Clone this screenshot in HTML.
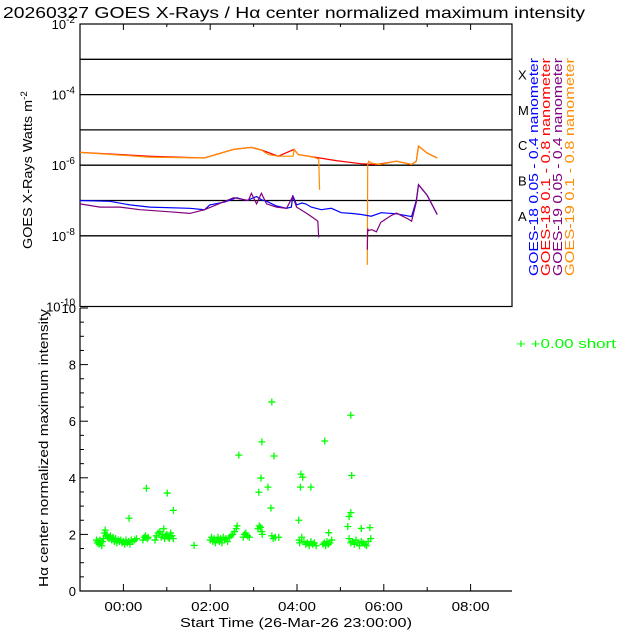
<!DOCTYPE html>
<html><head><meta charset="utf-8"><style>
html,body{margin:0;padding:0;background:#fff;width:640px;height:640px;overflow:hidden}
svg{display:block;font-family:"Liberation Sans",sans-serif}
</style></head><body>
<svg id="chart" width="640" height="640" viewBox="0 0 640 640">
<text x="3" y="18" font-size="16" textLength="582" lengthAdjust="spacingAndGlyphs">20260327 GOES X-Rays / Hα center normalized maximum intensity</text>
<g id="topPanel"></g>
<g id="botPanel"></g>
</svg>
<script>
// ---- data ----
var xrTickHours = [0, 2, 4, 6, 8];
var xrTickLabels = ['00:00', '02:00', '04:00', '06:00', '08:00'];
var goesClassLetters = ['A', 'B', 'C', 'M', 'X'];
var goesClassFlux = [1e-8, 1e-7, 1e-6, 1e-5, 1e-4];
var logTickExps = [-2, -4, -6, -8, -10];
// GOES-19 long (orange) [hour, flux]; NaN = data gap
var g19LongT = [-1.0,0.6,1.86,2.54,2.95,3.07,3.18,3.34,3.57,3.91,3.93,4.03,4.37,4.5,4.52,4.53,5.62,5.63,5.65,5.72,5.9,6.29,6.64,6.75,6.8,7.0,7.23];
var g19LongF = [2.3e-6,1.7e-6,1.6e-6,2.8e-6,3.2e-6,3.0e-6,2.7e-6,2.0e-6,1.8e-6,1.8e-6,2.8e-6,2.0e-6,1.7e-6,1.5e-6,2.0e-7,NaN,1.5e-9,1.0e-6,1.3e-6,1.15e-6,1.05e-6,1.3e-6,1.05e-6,1.3e-6,3.5e-6,2.2e-6,1.6e-6];
// GOES-18 long (red)
var g18LongT = [-1.0,0.6,1.86,2.54,2.95,3.18,3.57,3.93,4.03,4.4,4.9,5.47,5.83,6.29,6.64,6.75,6.8,7.0,7.23];
var g18LongF = [2.3e-6,1.8e-6,1.6e-6,2.8e-6,3.2e-6,2.7e-6,1.8e-6,2.8e-6,2.0e-6,1.7e-6,1.35e-6,1.1e-6,1.05e-6,1.3e-6,1.05e-6,1.3e-6,3.5e-6,2.2e-6,1.6e-6];
// GOES-18 short (blue)
var g18ShortT = [-1.0,-0.31,0.15,0.61,1.53,1.87,1.99,2.33,2.61,2.84,3.07,3.18,3.3,3.53,3.76,3.87,3.9,3.99,4.11,4.2,4.33,4.56,4.79,5.02,5.25,5.48,5.71,5.94,6.29,6.64,6.75,6.8,7.0,7.23];
var g18ShortF = [1.0e-7,9.5e-8,7.5e-8,6.5e-8,6.0e-8,5.5e-8,7.5e-8,9e-8,1.2e-7,1.0e-7,1.3e-7,1.05e-7,9.5e-8,7e-8,6.0e-8,6.5e-8,1.4e-7,7.5e-8,8.5e-8,8e-8,6.5e-8,5.5e-8,6e-8,4.5e-8,4.3e-8,4.0e-8,3.6e-8,4.5e-8,4.2e-8,3.5e-8,1.0e-7,2.8e-7,1.4e-7,4e-8];
// GOES-19 short (purple); NaN = data gap
var g19ShortT = [-1.0,-0.54,-0.08,0.38,1.07,1.53,1.87,2.54,2.88,2.95,3.07,3.18,3.3,3.53,3.76,3.9,3.99,4.2,4.38,4.48,4.5,4.51,5.62,5.63,5.65,5.72,5.83,5.93,6.18,6.29,6.56,6.64,6.75,6.8,7.0,7.23];
var g19ShortF = [8.0e-8,6.5e-8,6.5e-8,5.5e-8,4.8e-8,4.3e-8,5.5e-8,1.2e-7,1.0e-7,1.6e-7,8e-8,1.6e-7,8e-8,6.5e-8,6.0e-8,1.3e-7,6.5e-8,4.5e-8,3.2e-8,2.6e-8,9e-9,NaN,4e-9,1.6e-8,1.4e-8,1.5e-8,1.3e-8,2.4e-8,3.8e-8,4.4e-8,3.0e-8,2.6e-8,9e-8,2.8e-7,1.4e-7,4e-8];
// H-alpha normalized maximum intensity
var haT = [-0.62,-0.6,-0.58,-0.56,-0.54,-0.52,-0.5,-0.48,-0.46,-0.44,-0.42,-0.4,-0.38,-0.36,-0.33,-0.3,-0.27,-0.24,-0.21,-0.18,-0.15,-0.12,-0.09,-0.06,-0.03,0.0,0.03,0.06,0.09,0.12,0.15,0.18,0.22,0.26,0.3,
 0.45,0.48,0.51,0.55,0.57,0.73,0.76,0.8,0.84,0.87,0.9,0.93,0.95,0.97,1.0,1.03,1.06,1.09,1.12,1.15,
 0.13,0.53,1.01,1.15,1.63,
 2.0,2.03,2.06,2.09,2.12,2.15,2.18,2.21,2.24,2.27,2.3,2.33,2.36,2.4,2.44,2.48,2.52,2.56,2.6,2.62,
 2.76,2.79,2.82,2.86,2.9,3.1,3.13,3.16,3.19,3.2,3.42,3.45,3.5,3.58,
 2.66,3.19,3.42,3.47,3.17,3.12,3.33,3.4,4.09,4.13,4.08,4.32,4.04,4.64,5.24,5.26,5.24,5.2,5.17,5.68,5.48,5.7,4.73,
 4.06,4.05,4.11,4.16,4.2,4.24,4.28,4.32,4.36,4.4,4.44,4.6,4.63,4.66,4.69,4.72,4.76,4.8,5.2,5.24,5.28,5.32,5.36,5.4,5.44,5.48,5.52,5.56,5.6,5.64];
var haV = [1.8,1.7,1.75,1.65,1.8,1.7,1.6,1.75,1.85,2.05,2.15,1.95,2.0,1.9,1.85,1.95,1.8,1.9,1.75,1.85,1.7,1.8,1.75,1.8,1.7,1.75,1.65,1.8,1.7,1.75,1.65,1.8,1.75,1.8,1.85,
 1.8,1.9,1.95,1.85,1.9,1.8,1.95,2.05,2.1,1.9,2.0,2.2,1.85,1.95,2.0,1.9,1.85,2.05,1.95,1.85,
 2.57,3.63,3.46,2.85,1.61,
 1.8,1.9,1.75,1.85,1.7,1.8,1.9,1.75,1.85,1.7,1.9,1.8,1.85,1.75,1.9,1.95,2.0,2.1,2.2,2.3,
 1.9,2.0,2.05,1.95,1.9,2.2,2.3,2.25,2.1,2.0,1.95,1.85,1.9,1.9,
 4.8,5.27,6.68,4.77,3.99,3.49,3.67,2.93,4.13,4.02,3.67,3.67,2.5,5.3,6.21,4.08,2.77,2.63,2.28,2.24,2.21,1.85,2.06,
 1.7,1.8,1.9,1.75,1.65,1.7,1.6,1.75,1.65,1.7,1.6,1.65,1.7,1.6,1.75,1.65,1.7,1.8,1.85,1.7,1.75,1.65,1.8,1.7,1.6,1.75,1.7,1.65,1.6,1.75];
// ---- axes ----
var X0=80, X1=512, T0=-1.0, PXH=43.4;
function xs(t){return X0+(t-T0)*PXH;}
var TY0=24, DEC=35.3;
function ysTop(f){return TY0+(-2-Math.log10(f))*DEC;}
var BY0=591, PXU=28.3;
function ysBot(v){return BY0-v*PXU;}
var NS='http://www.w3.org/2000/svg';
function mk(parent,tag,attrs){var e=document.createElementNS(NS,tag);for(var k in attrs)e.setAttribute(k,attrs[k]);parent.appendChild(e);return e;}
var topG=document.getElementById('topPanel'), botG=document.getElementById('botPanel');
var fr=mk(topG,'rect',{x:X0,y:TY0,width:X1-X0,height:306.5-TY0,fill:'none',stroke:'#000','stroke-width':1.2});


for(var i=-3;i>=-8;i--){
 var l=mk(topG,'line',{x1:X0,x2:X1,y1:ysTop(Math.pow(10,i)),y2:ysTop(Math.pow(10,i)),stroke:'#000','stroke-width':1.3});
 
 
}
logTickExps.forEach(function(e){
 var y=ysTop(Math.pow(10,e));
 var t=mk(topG,'text',{x:75,y:y+5,'text-anchor':'end','font-size':13});
 
 
 t.appendChild(document.createTextNode('10'));
 var ts=mk(t,'tspan',{dy:-6,'font-size':10});
 ts.textContent=String(e);
});
goesClassLetters.forEach(function(c,i){
 var t=mk(topG,'text',{x:518,y:ysTop(goesClassFlux[i])-15,'font-size':13});
 
 
 t.textContent=c;
});
var yt=mk(topG,'text',{transform:'translate(32,170) rotate(-90)','text-anchor':'middle','font-size':13,textLength:158,lengthAdjust:'spacingAndGlyphs'});


yt.appendChild(document.createTextNode('GOES X-Rays Watts m'));
var yts=mk(yt,'tspan',{dy:-5,'font-size':9});
yts.textContent='-2';
for(var h=0;h<=8;h++){
 var tk=mk(topG,'line',{x1:xs(h),x2:xs(h),y1:TY0,y2:TY0+(h%2?3:6),stroke:'#000'});
 
 
}
function series(T,F,color,name){
 var d='',pen=false;
 T.forEach(function(t,i){
  if(isNaN(F[i])){pen=false;return;}
  d+=(pen?'L':'M')+xs(t).toFixed(1)+' '+ysTop(F[i]).toFixed(1);pen=true;
 });
 var p=mk(topG,'path',{d:d,fill:'none',stroke:color,'stroke-width':1.2});
 
 
}
series(g18LongT,g18LongF,'#ff0000','goes18-long-line');
series(g19LongT,g19LongF,'#ff8c00','goes19-long-line');
series(g18ShortT,g18ShortF,'#0000ff','goes18-short-line');
series(g19ShortT,g19ShortF,'#800080','goes19-short-line');
var legTxt=['GOES-18 0.05 - 0.4 nanometer','GOES-18 0.1 - 0.8 nanometer','GOES-19 0.05 - 0.4 nanometer','GOES-19 0.1 - 0.8 nanometer'];
var legCol=['#0000ff','#ff0000','#800080','#ff8c00'];
legTxt.forEach(function(s,i){
 var t=mk(topG,'text',{transform:'translate('+(538+i*12)+',276) rotate(-90)','font-size':13,fill:legCol[i],textLength:218,lengthAdjust:'spacingAndGlyphs'});
 
 
 t.textContent=s;
});
var ax=mk(botG,'path',{d:'M'+X0+' 308 L'+X0+' '+BY0+' L'+X1+' '+BY0,fill:'none',stroke:'#000','stroke-width':1.2});


for(var v=0;v<=10;v+=0.5){
 var tk2=mk(botG,'line',{x1:X0,x2:X0+(v%2===0?8:4),y1:ysBot(v),y2:ysBot(v),stroke:'#000'});
 
 
}
for(var v2=0;v2<=10;v2+=2){
 var tl=mk(botG,'text',{x:76,y:ysBot(v2)+5,'text-anchor':'end','font-size':13});
 
 
 tl.textContent=v2;
}
for(var h2=-1;h2<=8;h2++){
 var tk3=mk(botG,'line',{x1:xs(h2),x2:xs(h2),y1:BY0,y2:BY0-(h2%2===0?7:4),stroke:'#000'});
 
 
}
xrTickHours.forEach(function(h,i){
 var t=mk(botG,'text',{x:xs(h),y:611,'text-anchor':'middle','font-size':13,textLength:38,lengthAdjust:'spacingAndGlyphs'});
 
 
 t.textContent=xrTickLabels[i];
});
var xt=mk(botG,'text',{x:296,y:627,'text-anchor':'middle','font-size':13,textLength:232,lengthAdjust:'spacingAndGlyphs'});


xt.textContent='Start Time (26-Mar-26 23:00:00)';
var yb=mk(botG,'text',{transform:'translate(48,448) rotate(-90)','text-anchor':'middle','font-size':13,textLength:278,lengthAdjust:'spacingAndGlyphs'});


yb.textContent='Hα center normalized maximum intensity';
haT.forEach(function(t,i){
 var x=xs(t),y=ysBot(haV[i]);
 var p=mk(botG,'path',{d:'M'+(x-3.5)+' '+y+'H'+(x+3.5)+'M'+x+' '+(y-3.5)+'V'+(y+3.5),stroke:'#00ff00','stroke-width':1.3});
 
 
});
var lg=mk(botG,'text',{x:516,y:348,'font-size':13,fill:'#00ff00',textLength:100,lengthAdjust:'spacingAndGlyphs'});


lg.textContent='+  +0.00 short';
</script>
</body></html>
